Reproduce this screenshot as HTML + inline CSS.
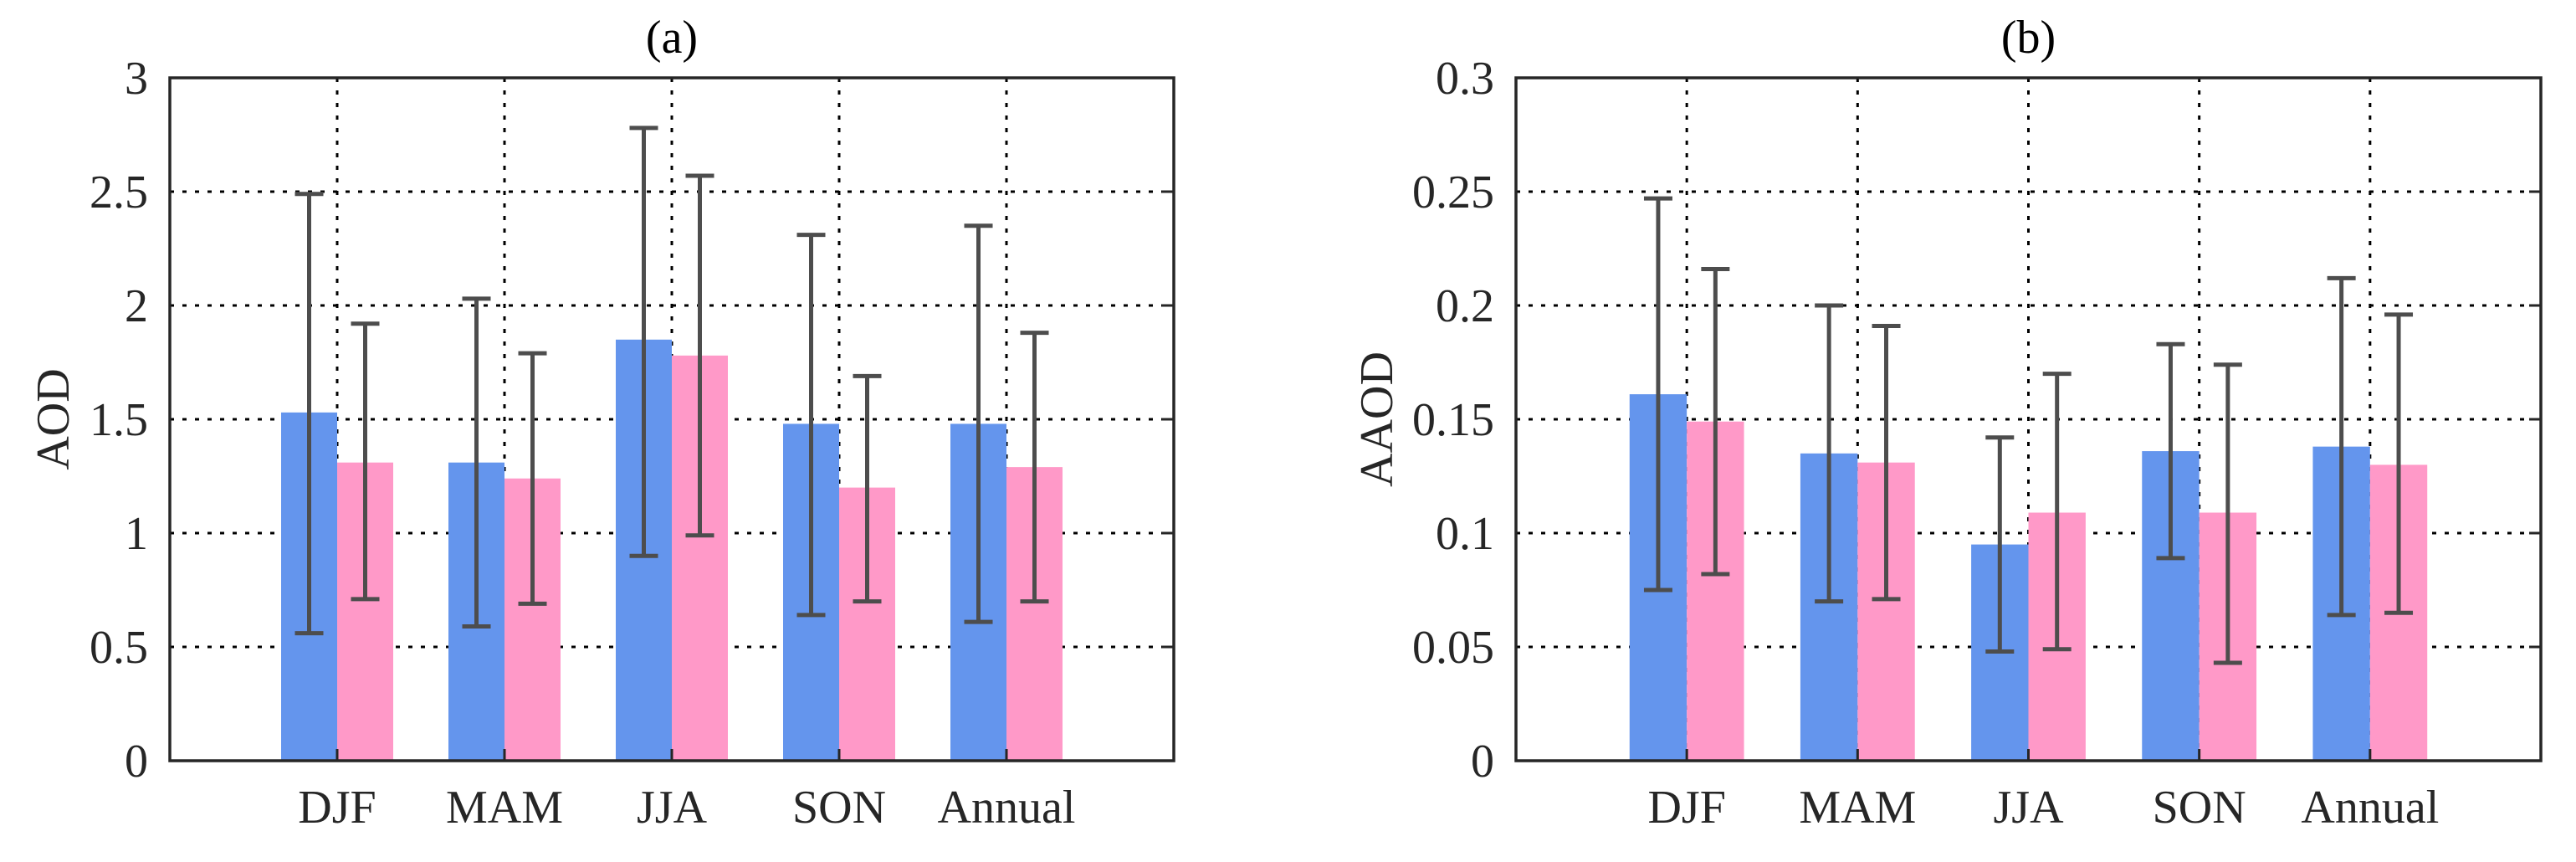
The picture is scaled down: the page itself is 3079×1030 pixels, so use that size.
<!DOCTYPE html>
<html><head><meta charset="utf-8"><style>
html,body{margin:0;padding:0;background:#fff;}
svg{display:block;font-family:"Liberation Serif",serif;}
</style></head><body>
<svg id="fig" width="3079" height="1030" viewBox="0 0 3079 1030" xmlns="http://www.w3.org/2000/svg"></svg>
<script>
const categories = ["DJF","MAM","JJA","SON","Annual"];
const aodBlue = [1.53,1.31,1.85,1.48,1.48];
const aodPink = [1.31,1.24,1.78,1.20,1.29];
const aodBlueLow = [0.56,0.59,0.90,0.64,0.61];
const aodBlueHigh = [2.49,2.03,2.78,2.31,2.35];
const aodPinkLow = [0.71,0.69,0.99,0.70,0.70];
const aodPinkHigh = [1.92,1.79,2.57,1.69,1.88];
const aodTicks = ["0","0.5","1","1.5","2","2.5","3"];
const aaodBlue = [0.161,0.135,0.095,0.136,0.138];
const aaodPink = [0.149,0.131,0.109,0.109,0.130];
const aaodBlueLow = [0.075,0.070,0.048,0.089,0.064];
const aaodBlueHigh = [0.247,0.200,0.142,0.183,0.212];
const aaodPinkLow = [0.082,0.071,0.049,0.043,0.065];
const aaodPinkHigh = [0.216,0.191,0.170,0.174,0.196];
const aaodTicks = ["0","0.05","0.1","0.15","0.2","0.25","0.3"];

const NS="http://www.w3.org/2000/svg";
const svg=document.getElementById('fig');
function mk(tag,attrs,parent){const e=document.createElementNS(NS,tag);for(const k in attrs)e.setAttribute(k,attrs[k]);(parent||svg).appendChild(e);return e;}

function panel(cfg){
  const g=mk('g',{});
  
  
  const L=cfg.left,R=cfg.right,T=93,B=909;
  const ymax=cfg.ymax;
  const slot=(R-L)/(categories.length+1);
  const xs=i=>L+slot*(i+1);
  const ys=v=>B-(v/ymax)*(B-T);
  const bw=slot*0.335;
  cfg.ticks.forEach((t,i)=>{
    const v=ymax*i/(cfg.ticks.length-1);const y=ys(v);
    if(i>0&&i<cfg.ticks.length-1){
      const gl=mk('line',{x1:L,x2:R,y1:y,y2:y,stroke:'#000','stroke-width':3,'stroke-dasharray':'5 10'},g);
      
      
    }
    const tl=mk('text',{x:L-26,y:y+19,'font-size':56,'text-anchor':'end',fill:'#262626'},g);
    tl.textContent=t;
    
    
    const tk=mk('line',{x1:R-14,x2:R,y1:y,y2:y,stroke:'#262626','stroke-width':3},g);
    
    
  });
  categories.forEach((c,i)=>{
    const x=xs(i);
    const vg=mk('line',{x1:x,x2:x,y1:T,y2:B,stroke:'#000','stroke-width':3,'stroke-dasharray':'5 10'},g);
    
    
    const cl=mk('text',{x:x,y:983,'font-size':56,'text-anchor':'middle',fill:'#262626'},g);
    cl.textContent=c;
    
    
  });
  categories.forEach((c,i)=>{
    const x=xs(i);
    const b=mk('rect',{x:x-bw,y:ys(cfg.blue[i]),width:bw,height:B-ys(cfg.blue[i]),fill:'#6495ED'},g);
    
    
    const p=mk('rect',{x:x,y:ys(cfg.pink[i]),width:bw,height:B-ys(cfg.pink[i]),fill:'#FF99C8'},g);
    
    
  });
  categories.forEach((c,i)=>{
    [[xs(i)-bw/2,cfg.bl[i],cfg.bh[i],'blue'],[xs(i)+bw/2,cfg.pl[i],cfg.ph[i],'pink']].forEach(([x,lo,hi,s])=>{
      const eg=mk('g',{stroke:'#4D4D4D','stroke-width':5},g);
      
      
      mk('line',{x1:x,x2:x,y1:ys(lo),y2:ys(hi)},eg);
      mk('line',{x1:x-17,x2:x+17,y1:ys(lo),y2:ys(lo)},eg);
      mk('line',{x1:x-17,x2:x+17,y1:ys(hi),y2:ys(hi)},eg);
    });
  });
  categories.forEach((c,i)=>{
    const x=xs(i);
    const t=mk('line',{x1:x,x2:x,y1:B-14,y2:B,stroke:'#262626','stroke-width':3},g);
    
    
  });
  const box=mk('rect',{x:L,y:T,width:R-L,height:B-T,fill:'none',stroke:'#262626','stroke-width':3.5},g);
  
  
  const tt=mk('text',{x:(L+R)/2,y:63,'font-size':56,'text-anchor':'middle',fill:'#000'},g);
  tt.textContent=cfg.title;
  
  
  const yl=mk('text',{x:0,y:0,'font-size':56,'text-anchor':'middle',fill:'#262626',transform:`translate(${cfg.ylx},${(T+B)/2}) rotate(-90)`},g);
  yl.textContent=cfg.ylabel;
  
  
}
panel({name:'panel-a-aod',left:203,right:1403,ymax:3,ticks:aodTicks,blue:aodBlue,pink:aodPink,bl:aodBlueLow,bh:aodBlueHigh,pl:aodPinkLow,ph:aodPinkHigh,title:'(a)',ylabel:'AOD',ylx:82});
panel({name:'panel-b-aaod',left:1812,right:3037,ymax:0.3,ticks:aaodTicks,blue:aaodBlue,pink:aaodPink,bl:aaodBlueLow,bh:aaodBlueHigh,pl:aaodPinkLow,ph:aaodPinkHigh,title:'(b)',ylabel:'AAOD',ylx:1664});
</script>
</body></html>
